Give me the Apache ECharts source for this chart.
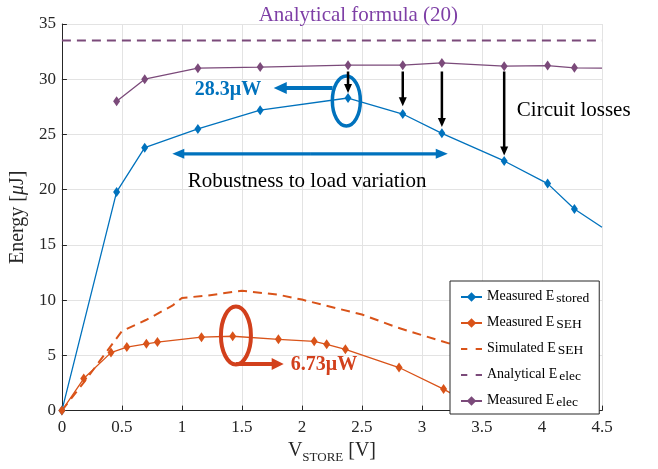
<!DOCTYPE html>
<html>
<head>
<meta charset="utf-8">
<script src="https://cdn.jsdelivr.net/npm/echarts@6/dist/echarts.min.js"></script>
<style>
  html, body { margin: 0; padding: 0; background: #fff; }
  #main { width: 658px; height: 469px; }
</style>
</head>
<body>
<div id="main"></div>
<script>
// measured / simulated values
const storedX = [0, 0.456, 0.69, 1.133, 1.652, 2.384, 2.84, 3.166, 3.685, 4.047, 4.27, 4.5]
const storedY = [0, 19.8, 23.8, 25.5, 27.2, 28.3, 26.85, 25.1, 22.6, 20.55, 18.25, 16.6]
const sehX = [0, 0.182, 0.409, 0.541, 0.704, 0.796, 1.163, 1.423, 1.804, 2.102, 2.206, 2.362, 2.809, 3.18, 3.4]
const sehY = [0, 2.9, 5.25, 5.75, 6.05, 6.2, 6.65, 6.73, 6.45, 6.27, 6.0, 5.55, 3.9, 1.95, 0.6]
const simX = [0, 0.2, 0.35, 0.5, 0.7, 0.92, 1.0, 1.2, 1.5, 1.8, 2.0, 2.2, 2.5, 2.8, 3.25]
const simY = [0, 2.8, 5.0, 7.2, 8.2, 9.5, 10.2, 10.4, 10.85, 10.5, 10.05, 9.5, 8.7, 7.5, 6.0]
const analyticX = [0, 4.5]
const analyticY = [33.5, 33.5]
const elecX = [0.456, 0.69, 1.133, 1.652, 2.384, 2.84, 3.166, 3.685, 4.047, 4.27, 4.5]
const elecY = [28.0, 30.0, 31.0, 31.1, 31.27, 31.27, 31.48, 31.18, 31.24, 31.03, 31.0]
// the last point of these runs is only the line end (no marker)
const storedLastNoMark = true
const sehLastNoMark = true
const elecLastNoMark = true

const xTicks = [0, 4.5, 0.5]
const yTicks = [0, 35, 5]

const BLUE = '#0072BD'
const ORANGE = '#D95319'
const PURPLE = '#7B4A7A'
const RED = '#D2401C'
const FONT = 'Liberation Serif'
const DASH_ICON = 'path://M0,0H6V2H0Z M14,0H20V2H14Z'

function pairs(xs, ys, lastNoMark) {
  return xs.map((x, i) => {
    if (lastNoMark && i === xs.length - 1) return { value: [x, ys[i]], symbol: 'none' }
    return [x, ys[i]]
  })
}

const chart = echarts.init(document.getElementById('main'))

const markerLine = (name, color, data) => ({
  name: name,
  type: 'line',
  data: data,
  symbol: 'diamond',
  symbolSize: [7, 10],
  showAllSymbol: true,
  lineStyle: { color: color, width: 1.3 },
  itemStyle: { color: color }
})

const option = {
  animation: false,
  grid: { left: 59, right: 56, top: 24, bottom: 55 },
  legend: {
    orient: 'vertical',
    left: 450,
    top: 281,
    padding: [1, 10, 5, 10],
    itemWidth: 21,
    itemHeight: 12,
    itemGap: 3,
    backgroundColor: '#fff',
    borderColor: '#262626',
    borderWidth: 1,
    z: 10,
    selectedMode: false,
    data: [
      { name: 'Measured E_stored' },
      { name: 'Measured E_SEH' },
      { name: 'Simulated E_SEH', icon: DASH_ICON },
      { name: 'Analytical E_elec', icon: DASH_ICON },
      { name: 'Measured E_elec' }
    ],
    formatter: function (name) {
      const parts = name.split('_')
      return '{m|' + parts[0] + '}{s|' + parts[1] + '}'
    },
    textStyle: {
      fontFamily: FONT,
      color: '#000',
      rich: {
        m: { fontFamily: FONT, fontSize: 14, color: '#000', lineHeight: 16, verticalAlign: 'top' },
        s: { fontFamily: FONT, fontSize: 13.5, color: '#000', lineHeight: 14, verticalAlign: 'bottom', padding: [9, 0, 0, 2] }
      }
    }
  },
  xAxis: {
    type: 'value',
    min: xTicks[0], max: xTicks[1], interval: xTicks[2],
    name: 'V{s|STORE} [V]',
    nameLocation: 'middle',
    nameGap: 26,
    nameTextStyle: {
      fontFamily: FONT, fontSize: 20, color: '#262626',
      rich: { s: { fontFamily: FONT, fontSize: 13, color: '#262626', verticalAlign: 'bottom', padding: [14, 0, 0, 0] } }
    },
    axisLine: { lineStyle: { color: '#262626', width: 1 } },
    axisTick: { inside: true, length: 5, lineStyle: { color: '#262626' } },
    axisLabel: { fontFamily: FONT, fontSize: 17, color: '#262626', margin: 8 },
    splitLine: { show: true, lineStyle: { color: '#e3e3e3', width: 1 } }
  },
  yAxis: {
    type: 'value',
    min: yTicks[0], max: yTicks[1], interval: yTicks[2],
    name: '{n|Energy [}{mu|μ}{n|J]}',
    nameLocation: 'middle',
    nameRotate: 90,
    nameGap: 17,
    nameTextStyle: {
      fontFamily: FONT, fontSize: 20, color: '#262626',
      rich: {
        n: { fontFamily: FONT, fontSize: 20, color: '#262626' },
        mu: { fontFamily: FONT, fontSize: 20, color: '#262626', fontStyle: 'italic' }
      }
    },
    axisLine: { show: true, lineStyle: { color: '#262626', width: 1 } },
    axisTick: { show: true, inside: true, length: 5, lineStyle: { color: '#262626' } },
    axisLabel: { fontFamily: FONT, fontSize: 17, color: '#262626', margin: 6 },
    splitLine: { show: true, lineStyle: { color: '#e3e3e3', width: 1 } }
  },
  series: [
    markerLine('Measured E_stored', BLUE, pairs(storedX, storedY, storedLastNoMark)),
    markerLine('Measured E_SEH', ORANGE, pairs(sehX, sehY, sehLastNoMark)),
    {
      name: 'Simulated E_SEH',
      type: 'line',
      data: pairs(simX, simY, false),
      symbol: 'none',
      lineStyle: { color: ORANGE, width: 2, type: [9, 6] },
      itemStyle: { color: ORANGE },
      z: 1
    },
    {
      name: 'Analytical E_elec',
      type: 'line',
      data: pairs(analyticX, analyticY, false),
      symbol: 'none',
      lineStyle: { color: PURPLE, width: 2, type: [9, 6] },
      itemStyle: { color: PURPLE }
    },
    markerLine('Measured E_elec', PURPLE, pairs(elecX, elecY, elecLastNoMark))
  ]
}

chart.setOption(option)

// annotations, anchored in data coordinates
const px = (x, y) => chart.convertToPixel({ gridIndex: 0 }, [x, y])

function arrow(a, b, color, w, hl, hw) {
  const dx = b[0] - a[0], dy = b[1] - a[1]
  const L = Math.hypot(dx, dy), ux = dx / L, uy = dy / L
  const bx = b[0] - ux * hl, by = b[1] - uy * hl
  return [
    { type: 'line', z: 100, shape: { x1: a[0], y1: a[1], x2: bx + ux, y2: by + uy }, style: { stroke: color, lineWidth: w } },
    { type: 'polygon', z: 100, shape: { points: [b, [bx - uy * hw, by + ux * hw], [bx + uy * hw, by - ux * hw]] }, style: { fill: color } }
  ]
}

function text(p, str, color, size, weight, align) {
  return {
    type: 'text', z: 100, x: p[0], y: p[1],
    style: {
      text: str, fill: color, fontFamily: FONT, fontSize: size, fontWeight: weight || 'normal',
      align: align || 'center', verticalAlign: 'middle'
    }
  }
}

const g = []
// analytical formula label
g.push(text(px(2.47, 35.75), 'Analytical formula (20)', '#7E3FA6', 21))

// 28.3 µW peak
const bc = px(2.37, 28.04)
g.push({ type: 'ellipse', z: 100, shape: { cx: bc[0], cy: bc[1], rx: 14, ry: 25 }, style: { fill: 'none', stroke: BLUE, lineWidth: 3.5 } })
g.push(...arrow(px(2.255, 29.2), px(1.765, 29.2), BLUE, 4, 13, 6))
g.push(text(px(1.384, 29.06), '28.3μW', BLUE, 20, 'bold'))

// robustness double arrow
const r1 = px(0.92, 23.25), r2 = px(3.215, 23.25)
const rm = [(r1[0] + r2[0]) / 2, r1[1]]
g.push(...arrow(rm, r1, BLUE, 3.3, 12, 5))
g.push(...arrow(rm, r2, BLUE, 3.3, 12, 5))
g.push(text(px(2.043, 20.74), 'Robustness to load variation', '#000', 21))

// circuit losses
const lossX = [2.384, 2.84, 3.166, 3.685]
const lossEnd = [28.75, 27.56, 25.67, 23.1]
lossX.forEach((x, i) => {
  g.push(...arrow(px(x, 30.7), px(x, lossEnd[i]), '#000', 2.5, 9, 4))
})
g.push(text(px(4.264, 27.14), 'Circuit losses', '#000', 21))

// 6.73 µW peak
const rc = px(1.45, 6.8)
g.push({ type: 'ellipse', z: 100, shape: { cx: rc[0], cy: rc[1], rx: 15, ry: 29 }, style: { fill: 'none', stroke: RED, lineWidth: 4 } })
g.push(...arrow(px(1.45, 4.22), px(1.848, 4.22), RED, 4, 12, 6))
g.push(text(px(2.184, 4.13), '6.73μW', RED, 20, 'bold'))

chart.setOption({ graphic: g })
</script>
</body>
</html>
